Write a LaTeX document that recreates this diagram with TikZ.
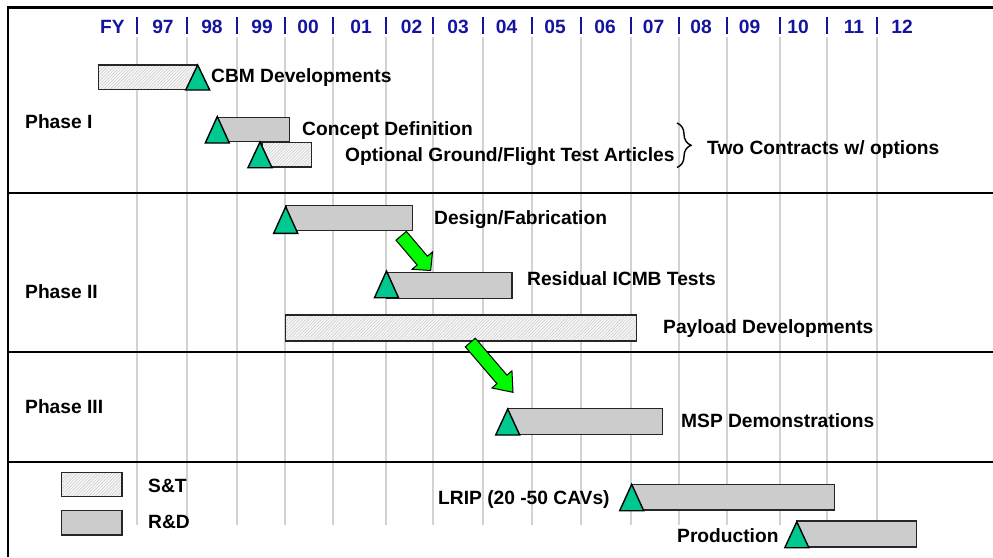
\documentclass[tikz,border=0pt]{standalone}
\usepackage{fontspec}
\setmainfont{Liberation Sans}
\usetikzlibrary{calc,patterns.meta,decorations.pathreplacing}
\definecolor{hdrblue}{RGB}{20,20,160}
\definecolor{trigreen}{RGB}{0,200,145}
\definecolor{arrgreen}{RGB}{0,250,0}
\definecolor{bargray}{RGB}{204,204,204}
\definecolor{gridgray}{RGB}{210,210,210}
\newcommand\mstone[3]{\filldraw[tri] (#1,#2) -- ++(12,#3) -- ++(-24,0) -- cycle;}
\newcommand\blockarrow[5]{%
  \path ($(#2)!#5!(#1)$) coordinate (#2h);
  \filldraw[garrow] ($(#1)!#3!90:(#2)$) -- ($(#2h)!#3!90:(#2)$) -- ($(#2h)!#4!90:(#2)$) -- (#2)
    -- ($(#2h)!#4!-90:(#2)$) -- ($(#2h)!#3!-90:(#2)$) -- ($(#1)!#3!-90:(#2)$) -- cycle;}
\begin{document}
\begin{tikzpicture}[x=1pt,y=-1pt,
  font=\fontsize{19.2}{23}\selectfont\bfseries,
  grid/.style={draw=gridgray,line width=1.3pt},
  tick/.style={draw=hdrblue,line width=1.8pt},
  hdr/.style={text=hdrblue,anchor=base,inner sep=0pt},
  lbl/.style={anchor=base west,inner sep=0pt},
  frame/.style={draw=black,line width=2.7pt},
  rd/.style={fill=bargray,draw=black!85,line width=1.5pt},
  st/.style={preaction={fill=gray!6},pattern={Lines[angle=45,distance=2.2pt,line width=0.45pt]},pattern color=gray!45,draw=black!85,line width=1.5pt},
  tri/.style={fill=trigreen,draw=black,line width=1.4pt,line join=miter},
  garrow/.style={fill=arrgreen,draw=black,line width=1pt,line join=miter}]
\useasboundingbox (0,0) rectangle (993,557);
% grid
\foreach \x in {137,187,237,285,333,386,433,483,532,581,631,679,727,780,827,877}{
  \draw[grid] (\x,37) -- (\x,525);
  \draw[tick] (\x,17) -- (\x,34);
}
% header
\foreach \lab/\x [count=\i] in {FY/112.5,97/163,98/212,99/262,00/308,01/361,02/411.5,03/458,04/506.5,05/555,06/605,07/653.5,08/701,09/749.5,10/798,11/854,12/902}{
  \node[hdr] (h\i) at (\x,33.3) {\lab};
}
% frame and separators
\draw[frame] (8,557) -- (8,7.5) -- (993,7.5);
\draw[frame] (8,193) -- (993,193);
\draw[frame] (8,352) -- (993,352);
\draw[frame] (8,462) -- (993,462);
% phase labels
\node[lbl] (p1) at (25,128) {Phase I};
\node[lbl] (p2) at (25,298) {Phase II};
\node[lbl] (p3) at (25,413) {Phase III};
% Phase I
\draw[st] (98.3,65) rectangle (197,89.3);
\mstone{197.7}{65}{25}
\node[lbl] (cbm) at (211,82) {CBM Developments};
\draw[rd] (218,117.7) rectangle (289.7,141.7);
\mstone{217.3}{116.5}{26.5}
\node[lbl] (cd) at (302,135) {Concept Definition};
\draw[st] (262,142.7) rectangle (311.7,167);
\mstone{260}{142}{25.7}
\node[lbl] (og) at (345,161) {Optional Ground/Flight Test Articles};
\coordinate (bt) at (677,123);
\coordinate (bb) at (677,167.5);
\draw[decorate,decoration={brace,amplitude=14pt},line width=1.4pt] (bt) -- (bb);
\node[lbl] (tc) at (707,154) {Two Contracts w/ options};
% Phase II
\draw[rd] (286,205.7) rectangle (412.7,230.7);
\mstone{285.7}{206.7}{26.6}
\node[lbl] (df) at (434,224) {Design/Fabrication};
\draw[rd] (387,272.3) rectangle (512,298.3);
\mstone{386.5}{271}{26.7}
\node[lbl] (ri) at (527,285.7) {Residual ICMB Tests};
\draw[st] (285.7,315) rectangle (636.7,341);
\node[lbl] (pd) at (663,333) {Payload Developments};
\coordinate (a1t) at (401.2,235.8);
\coordinate (a1b) at (430.7,270.5);
\blockarrow{a1t}{a1b}{6.8pt}{13.4pt}{13pt}
\coordinate (a2t) at (470.3,342.5);
\coordinate (a2b) at (513,392.3);
\blockarrow{a2t}{a2b}{6.6pt}{13.2pt}{17pt}
% Phase III
\draw[rd] (507.7,408.3) rectangle (662.3,434.3);
\mstone{507.7}{409}{26}
\node[lbl] (msp) at (681,427) {MSP Demonstrations};
% legend and production
\draw[st] (61.7,472.3) rectangle (122,496.7);
\node[lbl] (lst) at (148,492) {S\&T};
\draw[rd] (61.7,510.7) rectangle (122,535);
\node[lbl] (lrd) at (148,528) {R\&D};
\draw[rd] (632,484.3) rectangle (834.3,510);
\mstone{631.7}{484.3}{26.4}
\node[lbl] (lrip) at (438,504) {LRIP (20 -50 CAVs)};
\draw[rd] (797,521) rectangle (916.7,547);
\mstone{796.8}{521.7}{26}
\node[lbl] (prod) at (677,542) {Production};
\end{tikzpicture}
\end{document}
